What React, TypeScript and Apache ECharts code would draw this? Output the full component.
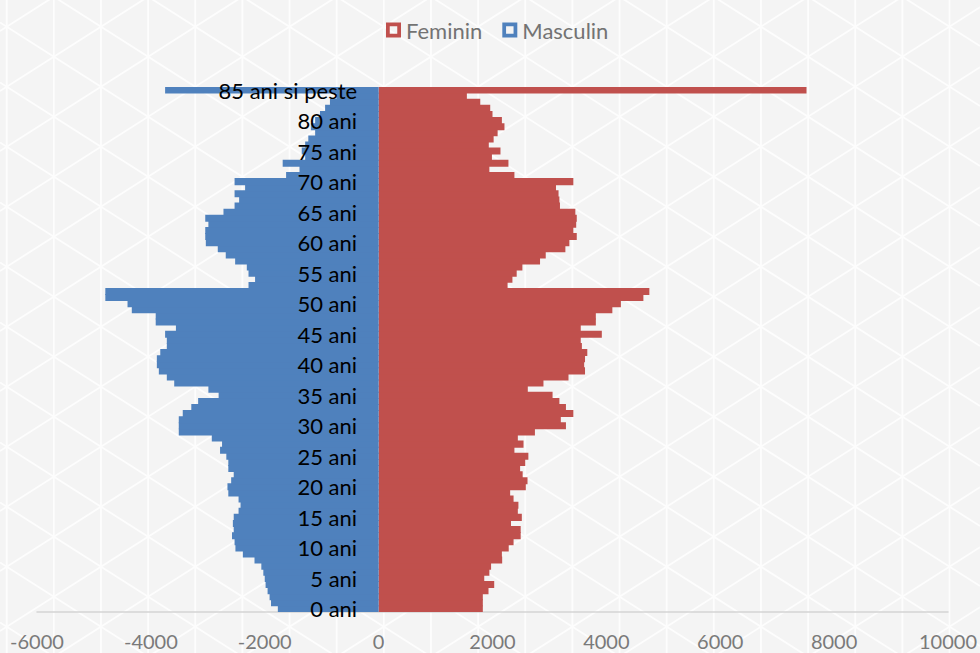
import React, { useEffect, useRef } from "react";
import * as echarts from "echarts";

const ages: string[] = Array.from({ length: 86 }, (_, i) => (i === 85 ? "85 ani si peste" : `${i} ani`));

// ages 0 .. 85+
const feminin: number[] = [
  1830, 1830, 1830, 1930, 2030, 1855, 1945, 1975, 2170, 2165,
  2285, 2370, 2495, 2495, 2325, 2515, 2445, 2455, 2370, 2310,
  2585, 2615, 2530, 2485, 2575, 2630, 2385, 2545, 2445, 2745,
  3290, 3200, 3420, 3290, 3175, 3055, 2620, 2895, 3335, 3625,
  3610, 3625, 3665, 3570, 3550, 3920, 3550, 3815, 3815, 4105,
  4255, 4650, 4755, 2265, 2350, 2425, 2525, 2835, 2935, 3280,
  3350, 3480, 3420, 3470, 3480, 3455, 3185, 3175, 3160, 3115,
  3420, 2385, 1945, 2280, 1990, 2140, 1935, 2020, 2090, 2210,
  2165, 2000, 1960, 1785, 1550, 7515,
];

const masculin: number[] = [
  -1770, -1890, -1915, -1950, -1985, -2000, -2025, -2060, -2180, -2385,
  -2515, -2530, -2575, -2545, -2560, -2545, -2460, -2425, -2460, -2640,
  -2655, -2590, -2545, -2640, -2640, -2675, -2785, -2750, -2930, -3510,
  -3510, -3510, -3440, -3290, -3170, -2810, -2990, -3590, -3720, -3860,
  -3895, -3895, -3835, -3720, -3720, -3750, -3560, -3915, -3915, -4335,
  -4410, -4800, -4800, -2285, -2170, -2285, -2315, -2520, -2685, -2825,
  -3035, -3045, -3045, -2990, -3045, -2725, -2530, -2450, -2530, -2345,
  -2530, -1625, -1390, -1685, -1290, -1350, -1290, -1235, -1115, -1190,
  -1115, -1030, -940, -855, -740, -3750,
];

const legendNames: string[] = ["Feminin", "Masculin"];
const xMin = -6000;
const xMax = 10000;
const xStep = 2000;

const RED = "#C0504D";
const BLUE = "#4F81BD";
const ICON = "path://M0,0H14V14H0Z M3.5,3.5V10.5H10.5V3.5Z";

const W = 980;
const H = 653;
const GRID_LEFT = 37;
const GRID_RIGHT = 32;

// decorative triangle lattice behind the chart
function backgroundLattice() {
  const dx = 47.14;
  const x0 = 6.7;
  const y0 = 26.7;
  const s = 30 / dx;
  const els: any[] = [];
  const style = { stroke: "#fdfdfd", lineWidth: 1.8 };
  for (let k = -1; k <= 21; k++) {
    const x = x0 + dx * k;
    els.push({ type: "line", silent: true, z: -10, shape: { x1: x, y1: 0, x2: x, y2: H }, style });
  }
  for (let m = -14; m <= 24; m++) {
    const c = y0 + 60 * m;
    els.push({
      type: "line", silent: true, z: -10,
      shape: { x1: 0, y1: c + s * x0, x2: W, y2: c - s * (W - x0) },
      style,
    });
    els.push({
      type: "line", silent: true, z: -10,
      shape: { x1: 0, y1: c - s * x0, x2: W, y2: c + s * (W - x0) },
      style,
    });
  }
  return els;
}

export default function App() {
  const ref = useRef<HTMLDivElement>(null);
  useEffect(() => {
    if (!ref.current) return;
    const chart = echarts.init(ref.current, null, { renderer: "svg" });
    const plotW = W - GRID_LEFT - GRID_RIGHT;
    const zeroOffset = (plotW * (0 - xMin)) / (xMax - xMin);
    chart.setOption({
      animation: false,
      backgroundColor: "#f4f4f4",
      graphic: { elements: backgroundLattice() },
      legend: {
        data: legendNames,
        top: 14,
        left: 381,
        icon: ICON,
        itemWidth: 15,
        itemHeight: 15,
        itemGap: 20,
        textStyle: { fontSize: 22, color: "#737373", fontFamily: "Lato" },
      },
      grid: {
        left: GRID_LEFT,
        right: GRID_RIGHT,
        top: 87,
        bottom: 41,
        containLabel: false,
        outerBoundsMode: "none",
      },
      xAxis: {
        type: "value",
        min: xMin,
        max: xMax,
        interval: xStep,
        axisLine: { show: true, lineStyle: { color: "#d4d4d4", width: 1.5 } },
        axisTick: { show: false },
        splitLine: { show: false },
        axisLabel: {
          color: "#7a7a7a",
          fontSize: 20,
          fontFamily: "Lato",
          margin: 19,
          formatter: (v: number) => String(v),
        },
      },
      yAxis: {
        type: "category",
        data: ages,
        z: 10,
        offset: -zeroOffset + 1.5,
        axisLine: { show: false, onZero: false },
        axisTick: { show: false },
        axisLabel: {
          interval: (index: number) => index % 5 === 0,
          color: "#000000",
          fontSize: 22,
          fontFamily: "Lato",
          margin: 20,
        },
      },
      series: [
        {
          name: "Feminin",
          type: "bar",
          data: feminin,
          itemStyle: { color: RED },
          barGap: "-100%",
          barWidth: "115%",
        },
        {
          name: "Masculin",
          type: "bar",
          data: masculin,
          itemStyle: { color: BLUE },
          barGap: "-100%",
          barWidth: "115%",
        },
      ],
    });
    return () => chart.dispose();
  }, []);
  return <div ref={ref} style={{ position: "fixed", left: 0, top: 0, width: W, height: H }} />;
}
